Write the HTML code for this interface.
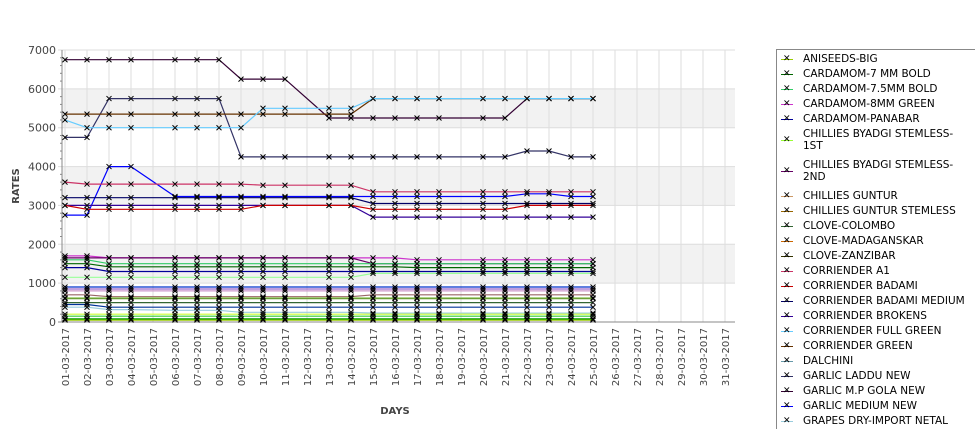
<!DOCTYPE html>
<html><head><meta charset="utf-8"><style>
body{margin:0;background:#fff;font-family:"DejaVu Sans","Liberation Sans",sans-serif;}
#wrap{position:relative;width:975px;height:429px;overflow:hidden;}
.leg{position:absolute;left:776px;top:49px;width:210px;height:390px;border:1px solid #888;box-sizing:border-box;}
.li{position:absolute;left:0;font-size:10.5px;color:#000;line-height:12px;}
.li .sw{position:absolute;left:4px;width:12px;height:1px;}
.li .mk{position:absolute;left:6px;font-size:9px;line-height:9px;color:#000;}
.li .tx{position:absolute;left:26px;white-space:nowrap;}
</style></head><body>
<div id="wrap">
<svg id="chart" width="975" height="429"></svg>
<div class="leg" id="legend"></div>
</div>
<script>
const dayLabels=["01-03-2017","02-03-2017","03-03-2017","04-03-2017","05-03-2017","06-03-2017","07-03-2017","08-03-2017","09-03-2017","10-03-2017","11-03-2017","12-03-2017","13-03-2017","14-03-2017","15-03-2017","16-03-2017","17-03-2017","18-03-2017","19-03-2017","20-03-2017","21-03-2017","22-03-2017","23-03-2017","24-03-2017","25-03-2017","26-03-2017","27-03-2017","28-03-2017","29-03-2017","30-03-2017","31-03-2017"];
const dataDays=[1,2,3,4,6,7,8,9,10,11,13,14,15,16,17,18,20,21,22,23,24,25];
const yTicks=[0,1000,2000,3000,4000,5000,6000,7000];
const legendNames=["ANISEEDS-BIG","CARDAMOM-7 MM BOLD","CARDAMOM-7.5MM BOLD","CARDAMOM-8MM GREEN","CARDAMOM-PANABAR","CHILLIES BYADGI STEMLESS-\n1ST","CHILLIES BYADGI STEMLESS-\n2ND","CHILLIES GUNTUR","CHILLIES GUNTUR STEMLESS","CLOVE-COLOMBO","CLOVE-MADAGANSKAR","CLOVE-ZANZIBAR","CORRIENDER A1","CORRIENDER BADAMI","CORRIENDER BADAMI MEDIUM","CORRIENDER BROKENS","CORRIENDER FULL GREEN","CORRIENDER GREEN","DALCHINI","GARLIC LADDU NEW","GARLIC M.P GOLA NEW","GARLIC MEDIUM NEW","GRAPES DRY-IMPORT NETAL"];
const legendColors=["#99cc00","#006600","#33cc66","#cc33cc","#000099","#99ff33","#660066","#cc9966","#996600","#336633","#cc6600","#333300","#cc3366","#cc0000","#000066","#330099","#66ccff","#663300","#6699aa","#333366","#330033","#0000ff","#99ccdd"];
// series values (one per dataDays entry)
const sGola=[6750,6750,6750,6750,6750,6750,6750,6250,6250,6250,5250,5250,5250,5250,5250,5250,5250,5250,5750,5750,5750,5750];
const sLaddu=[4750,4750,5750,5750,5750,5750,5750,4250,4250,4250,4250,4250,4250,4250,4250,4250,4250,4250,4400,4400,4250,4250];
const sCorGreen=[5350,5350,5350,5350,5350,5350,5350,5350,5350,5350,5350,5350,5750,5750,5750,5750,5750,5750,5750,5750,5750,5750];
const sFullGreen=[5200,5000,5000,5000,5000,5000,5000,5000,5500,5500,5500,5500,5750,5750,5750,5750,5750,5750,5750,5750,5750,5750];
const sGarlicMed=[2750,2750,4000,4000,3230,3230,3230,3230,3230,3230,3230,3230,3230,3230,3230,3230,3230,3230,3300,3300,3230,3230];
const sA1=[3600,3550,3550,3550,3550,3550,3550,3550,3520,3520,3520,3520,3350,3350,3350,3350,3350,3350,3350,3350,3350,3350];
const sBadMed=[3200,3200,3200,3200,3200,3200,3200,3200,3200,3200,3200,3200,3050,3050,3050,3050,3050,3050,3050,3050,3050,3050];
const sBrokens=[3000,3000,3000,3000,3000,3000,3000,3000,3000,3000,3000,3000,2700,2700,2700,2700,2700,2700,2700,2700,2700,2700];
const sBadami=[3000,2900,2900,2900,2900,2900,2900,2900,3000,3000,3000,3000,2900,2900,2900,2900,2900,2900,3000,3000,3000,3000];
const s8mm=[1700,1700,1650,1650,1650,1650,1650,1650,1650,1650,1650,1650,1650,1650,1600,1600,1600,1600,1600,1600,1600,1600];
const sByadgi2=[1650,1650,1650,1650,1650,1650,1650,1650,1650,1650,1650,1650,1500,1500,1500,1500,1500,1500,1500,1500,1500,1500];
const s75mm=[1600,1600,1500,1500,1500,1500,1500,1500,1500,1500,1500,1500,1500,1500,1500,1500,1500,1500,1500,1500,1500,1500];
const s7mm=[1500,1500,1420,1420,1420,1420,1420,1420,1420,1420,1420,1420,1420,1420,1400,1400,1400,1400,1400,1400,1400,1400];
const sPanabar=[1400,1400,1300,1300,1300,1300,1300,1300,1300,1300,1300,1300,1300,1300,1300,1300,1300,1300,1300,1300,1300,1300];
const sByadgi1=[1150,1150,1150,1150,1150,1150,1150,1150,1150,1150,1150,1150,1250,1250,1250,1250,1250,1250,1250,1250,1250,1250];
const sClove1=[900,900,900,900,900,900,900,900,900,900,900,900,900,900,900,900,900,900,900,900,900,900];
const sClove2=[850,850,850,850,850,850,850,850,850,850,850,850,850,850,850,850,850,850,850,850,850,850];
const sClove3=[800,800,800,800,800,800,800,800,800,800,800,800,800,800,800,800,800,800,800,800,800,800];
const sGuntur=[700,700,650,650,650,650,650,650,650,650,650,650,700,700,700,700,700,700,700,700,700,700];
const sGunturS=[620,620,620,620,620,620,620,620,620,620,620,620,620,620,620,620,620,620,620,620,620,620];
const sDalchini=[600,600,600,600,600,600,600,600,600,600,600,600,600,600,600,600,600,600,600,600,600,600];
const sClove4=[500,500,500,500,500,500,500,500,500,500,500,500,500,500,500,500,500,500,500,500,500,500];
const sBlueLow=[450,450,380,380,380,380,380,380,380,380,380,380,380,380,380,380,380,380,380,380,380,380];
const sGrapes=[380,380,320,320,300,300,300,250,250,250,250,250,230,230,230,230,230,230,230,230,230,230];
const sAnis=[200,200,200,200,200,200,200,200,200,200,200,200,200,200,200,200,200,200,200,200,200,200];
const sGreenLow=[150,150,150,150,150,150,150,150,150,150,150,150,150,150,150,150,150,150,150,150,150,150];
const sGreenLow2=[80,80,80,80,80,80,80,80,80,80,80,80,80,80,80,80,80,80,80,80,80,80];
const sLime=[50,50,50,50,50,50,50,50,50,50,50,50,50,50,50,50,50,50,50,50,50,50];
const series=[
 ["gola",sGola,"#330033"],["laddu",sLaddu,"#333366"],["corriender-green",sCorGreen,"#663300"],["full-green",sFullGreen,"#66ccff"],
 ["garlic-medium",sGarlicMed,"#0000ff"],["corriender-a1",sA1,"#cc3366"],["badami-medium",sBadMed,"#000066"],["brokens",sBrokens,"#330099"],
 ["badami",sBadami,"#cc0000"],["cardamom-8mm",s8mm,"#cc33cc"],["byadgi-2nd",sByadgi2,"#660066"],["cardamom-7-5mm",s75mm,"#33cc66"],
 ["cardamom-7mm",s7mm,"#006600"],["panabar",sPanabar,"#000099"],["byadgi-1st",sByadgi1,"#99ff99"],["clove-a",sClove1,"#0033cc"],
 ["clove-b",sClove2,"#9966cc"],["clove-c",sClove3,"#cc99cc"],["guntur",sGuntur,"#996666"],["guntur-stemless",sGunturS,"#99cc66"],
 ["dalchini",sDalchini,"#669933"],["clove-colombo",sClove4,"#336633"],["blue-low",sBlueLow,"#003399"],["grapes",sGrapes,"#99ccdd"],
 ["aniseeds",sAnis,"#ccff33"],["green-low",sGreenLow,"#33cc33"],["green-low2",sGreenLow2,"#009900"],["lime",sLime,"#99cc00"]];
const NS="http://www.w3.org/2000/svg";
const svg=document.getElementById('chart');
const L=62,R=735,T=50,B=322,X0=65,DX=22.0;
const xS=d=>X0+(d-1)*DX;
const yS=v=>B-(v/7000)*(B-T);
function mk(tag,attrs,parent){const e=document.createElementNS(NS,tag);for(const k in attrs)e.setAttribute(k,attrs[k]);(parent||svg).appendChild(e);return e;}
// bands
for(let i=0;i<yTicks.length-1;i++){
 if(i%2===1){const r=mk('rect',{x:L,y:yS(yTicks[i+1]),width:R-L,height:yS(yTicks[i])-yS(yTicks[i+1]),fill:'#f2f2f2'});
 
 }
}
yTicks.forEach(v=>{const l=mk('line',{x1:L-4,x2:R,y1:yS(v),y2:yS(v),stroke:'#ddd'});
 
 
 const t=mk('text',{x:L-6,y:yS(v)+4,'text-anchor':'end','font-size':11,fill:'#444','font-family':'DejaVu Sans, Liberation Sans, sans-serif'});t.textContent=v;
 
 });
for(let v=200;v<7000;v+=200){if(v%1000)mk('line',{x1:L-2,x2:L,y1:yS(v),y2:yS(v),stroke:'#888'});}
dayLabels.forEach((lab,i)=>{const x=xS(i+1);
 const g=mk('line',{x1:x,x2:x,y1:T,y2:B,stroke:'#ddd'});
 
 
 const t=mk('text',{x:0,y:0,transform:`translate(${x+4},${B+6}) rotate(-90)`,'text-anchor':'end','font-size':10,fill:'#444','font-family':'DejaVu Sans, Liberation Sans, sans-serif'});t.textContent=lab;
 
 });
mk('line',{x1:L,x2:L,y1:T,y2:B,stroke:'#888'});
mk('line',{x1:L-4,x2:R,y1:B,y2:B,stroke:'#888'});
const yt=mk('text',{x:0,y:0,transform:'translate(19,186) rotate(-90)','text-anchor':'middle','font-size':10,'font-weight':'bold',fill:'#444','font-family':'DejaVu Sans, sans-serif'});yt.textContent='RATES';


const xt=mk('text',{x:395,y:414,'text-anchor':'middle','font-size':10,'font-weight':'bold',fill:'#444','font-family':'DejaVu Sans, sans-serif'});xt.textContent='DAYS';


series.forEach(([nm,vals,col])=>{
 const pts=vals.map((v,i)=>xS(dataDays[i]).toFixed(1)+','+yS(v).toFixed(1)).join(' ');
 const p=mk('polyline',{points:pts,fill:'none',stroke:col,'stroke-width':1.2});
 
 
});
series.forEach(([nm,vals,col])=>{
 let d='';vals.forEach((v,i)=>{const x=xS(dataDays[i]),y=yS(v);d+=`M${x-2.5},${y-2.5}L${x+2.5},${y+2.5}M${x-2.5},${y+2.5}L${x+2.5},${y-2.5}`;});
 const p=mk('path',{d:d,stroke:'#000','stroke-width':1,fill:'none'});
 
 
});
// legend
const leg=document.getElementById('legend');
let y=3;
legendNames.forEach((n,i)=>{
 const two=n.includes('\n');
 const it=document.createElement('div');it.className='li';it.style.top=y+'px';
 
 
 const h=two?24:12;
 it.innerHTML=`<div class="sw" style="top:${h/2}px;background:${legendColors[i]}"></div><div class="mk" style="top:${h/2-4}px">✕</div><div class="tx">${n.replace('\n','<br>')}</div>`;
 leg.appendChild(it);
 y+=two?31:15;
});
</script>
</body></html>
